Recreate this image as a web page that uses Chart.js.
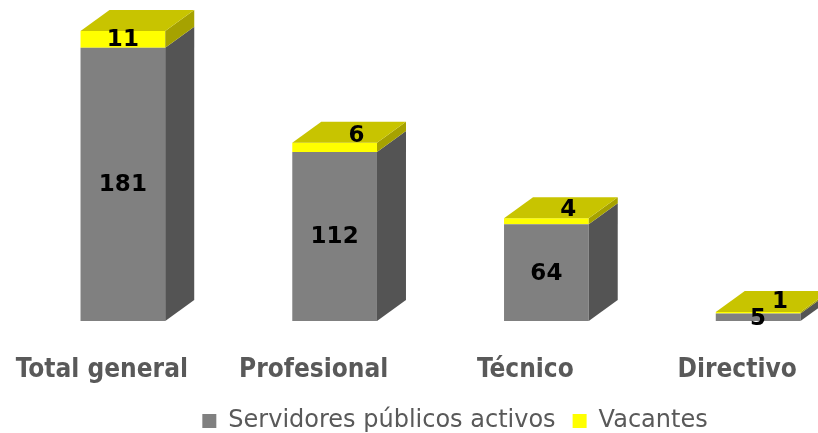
<!DOCTYPE html>
<html>
<head>
<meta charset="utf-8">
<script src="https://cdn.jsdelivr.net/npm/chart.js@4.4.1/dist/chart.umd.min.js"></script>
<style>
  html, body { margin: 0; padding: 0; background: #fff; }
  #wrap { width: 818px; height: 433px; overflow: hidden; position: relative; }
  #box { width: 910px; height: 433px; position: absolute; left: 0; top: 0; }
</style>
</head>
<body>
<div id="wrap"><div id="box"><canvas id="grafico"></canvas></div></div>
<script>
const categorias = ['Total general', 'Profesional', 'Técnico', 'Directivo'];
const activos = [181, 112, 64, 5];
const vacantes = [11, 6, 4, 1];

// profundidad del efecto 3D
const DX = 29, DY = 21;

const caras3d = {
    id: 'caras3d',
    afterDatasetsDraw(chart) {
        const ctx = chart.ctx;
        const lados = ['#545454', '#a6a200'];
        const metas = [chart.getDatasetMeta(0), chart.getDatasetMeta(1)];
        ctx.save();
        categorias.forEach((c, i) => {
            metas.forEach((meta, d) => {
                const bar = meta.data[i];
                const r = bar.x + bar.width / 2;
                const top = Math.min(bar.y, bar.base);
                const bot = Math.max(bar.y, bar.base);
                ctx.fillStyle = lados[d];
                ctx.beginPath();
                ctx.moveTo(r, bot);
                ctx.lineTo(r + DX, bot - DY);
                ctx.lineTo(r + DX, top - DY);
                ctx.lineTo(r, top);
                ctx.closePath();
                ctx.fill();
            });
            // cara superior
            const b = metas[1].data[i];
            const l = b.x - b.width / 2, r = b.x + b.width / 2;
            ctx.fillStyle = '#c8c400';
            ctx.beginPath();
            ctx.moveTo(l, b.y);
            ctx.lineTo(l + DX, b.y - DY);
            ctx.lineTo(r + DX, b.y - DY);
            ctx.lineTo(r, b.y);
            ctx.closePath();
            ctx.fill();
        });
        // etiquetas
        ctx.fillStyle = '#000';
        ctx.font = 'bold 23px "DejaVu Sans"';
        ctx.textAlign = 'center';
        ctx.textBaseline = 'middle';
        metas.forEach((meta, d) => {
            const vals = d === 0 ? activos : vacantes;
            meta.data.forEach((bar, i) => {
                let x = bar.x;
                let y = (bar.y + bar.base) / 2 + 1;
                if (Math.abs(bar.base - bar.y) < 10) {
                    if (d === 1) { x += 22; y -= 12; } else { y += 1; }
                }
                ctx.fillText(String(vals[i]), x, y);
            });
        });
        ctx.restore();
    }
};

new Chart(document.getElementById('grafico'), {
    type: 'bar',
    data: {
        labels: categorias,
        datasets: [{
            label: 'Servidores públicos activos',
            data: activos,
            backgroundColor: '#808080'
        }, {
            label: 'Vacantes',
            data: vacantes,
            backgroundColor: '#ffff00'
        }]
    },
    options: {
        responsive: true,
        maintainAspectRatio: false,
        animation: false,
        categoryPercentage: 1,
        barPercentage: 0.4,
        layout: {
            padding: { left: 0, right: 0, top: 19, bottom: -10 }
        },
        scales: {
            x: {
                stacked: true,
                grid: { display: false, drawTicks: false },
                border: { display: false },
                ticks: {
                    padding: 34,
                    labelOffset: -21,
                    color: '#595959',
                    font: { family: 'DejaVu Sans Condensed', size: 26, weight: 'bold' }
                },
                afterFit: (scale) => { scale.height = 71; }
            },
            y: {
                stacked: true,
                min: 0,
                max: 200,
                grid: { display: false },
                border: { display: false },
                ticks: { display: false },
                afterFit: (scale) => { scale.width = 17; }
            },
            y2: {
                type: 'linear',
                position: 'right',
                display: true,
                grid: { display: false },
                border: { display: false },
                ticks: { display: false },
                afterFit: (scale) => { scale.width = 46; }
            }
        },
        plugins: {
            legend: {
                position: 'bottom',
                labels: {
                    boxWidth: 14,
                    boxHeight: 14,
                    padding: 17,
                    color: '#595959',
                    font: { family: 'DejaVu Sans', size: 24 }
                }
            },
            tooltip: { enabled: false }
        }
    },
    plugins: [caras3d]
});
</script>
</body>
</html>
